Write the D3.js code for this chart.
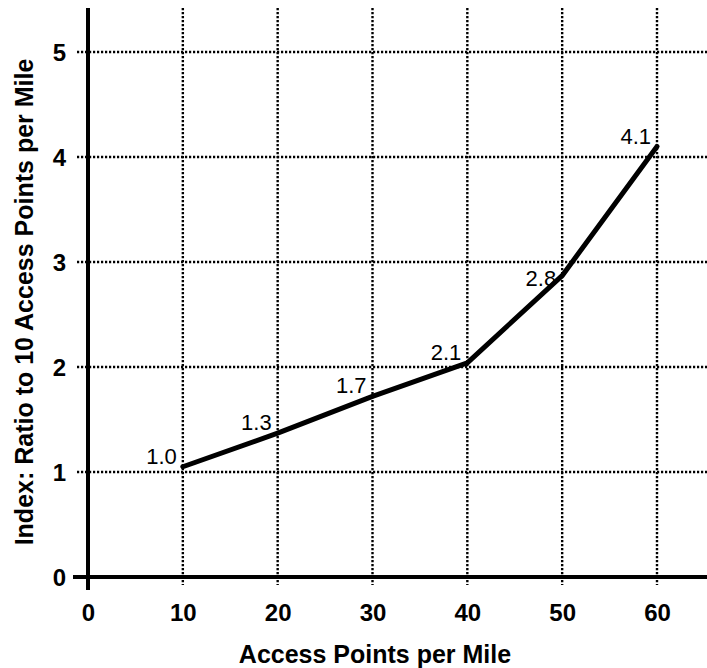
<!DOCTYPE html>
<html>
<head>
<meta charset="utf-8">
<script src="https://cdn.jsdelivr.net/npm/d3@7"></script>
<style>
  body { margin: 0; background: #fff; }
  svg { display: block; }
</style>
</head>
<body>
<svg id="chart"></svg>
<script>
// chart data
var accessPoints = [10, 20, 30, 40, 50, 60]
var indexValues = [1.05, 1.37, 1.72, 2.04, 2.87, 4.1]
var valueLabels = ["1.0", "1.3", "1.7", "2.1", "2.8", "4.1"]
var xTicks = [0, 10, 20, 30, 40, 50, 60]
var yTicks = [0, 1, 2, 3, 4, 5]

var dimensions = {
    width: 707,
    height: 668,
    margin: { top: 8, right: 0, bottom: 91, left: 88 }
}

var svg = d3.select("#chart")
    .attr("width", dimensions.width)
    .attr("height", dimensions.height)

var font = "'Liberation Sans', Arial, Helvetica, sans-serif"

var xScale = d3.scaleLinear()
    .domain([0, 60])
    .range([dimensions.margin.left, 657])

var yScale = d3.scaleLinear()
    .domain([0, 5])
    .range([dimensions.height - dimensions.margin.bottom, 52])

var x0 = xScale(0), y0 = yScale(0)
var right = dimensions.width - dimensions.margin.right

// dotted grid
var grid = svg.append("g")
    .attr("stroke", "#000")
    .attr("stroke-width", 2.4)
    .attr("stroke-dasharray", "2.2,1.8")

grid.selectAll(".vgrid")
    .data(xTicks.filter(d => d > 0))
    .enter()
    .append("line")
    .attr("x1", d => xScale(d))
    .attr("x2", d => xScale(d))
    .attr("y1", dimensions.margin.top)
    .attr("y2", y0 + 8)

grid.selectAll(".hgrid")
    .data(yTicks.filter(d => d > 0))
    .enter()
    .append("line")
    .attr("x1", x0 - 11)
    .attr("x2", right)
    .attr("y1", d => yScale(d))
    .attr("y2", d => yScale(d))

// axes lines
svg.append("line")
    .attr("x1", x0 - 15).attr("x2", right)
    .attr("y1", y0).attr("y2", y0)
    .attr("stroke", "#000").attr("stroke-width", 4)

svg.append("line")
    .attr("x1", x0).attr("x2", x0)
    .attr("y1", dimensions.margin.top).attr("y2", y0 + 13)
    .attr("stroke", "#000").attr("stroke-width", 4)

// tick labels through d3 axes
var xAxisgen = d3.axisBottom(xScale).tickValues(xTicks).tickSize(0).tickFormat(d3.format("d"))
var xAxis = svg.append("g")
    .attr("transform", "translate(0," + y0 + ")")
    .call(xAxisgen)
xAxis.select(".domain").remove()
xAxis.selectAll("text")
    .attr("dy", 0)
    .attr("y", 44)
    .style("font-family", font)
    .style("font-weight", "bold")
    .style("font-size", "24px")
    .attr("fill", "#000")

var yAxisgen = d3.axisLeft(yScale).tickValues(yTicks).tickSize(0).tickPadding(22).tickFormat(d3.format("d"))
var yAxis = svg.append("g")
    .attr("transform", "translate(" + x0 + ",0)")
    .call(yAxisgen)
yAxis.select(".domain").remove()
yAxis.selectAll("text")
    .attr("dy", "0.36em")
    .style("font-family", font)
    .style("font-weight", "bold")
    .style("font-size", "24px")
    .attr("fill", "#000")

// the index line
var points = accessPoints.map((d, i) => [d, indexValues[i], valueLabels[i]])

var line = d3.line()
    .x(d => xScale(d[0]))
    .y(d => yScale(d[1]))

svg.append("path")
    .datum(points)
    .attr("d", line)
    .attr("fill", "none")
    .attr("stroke", "#000")
    .attr("stroke-width", 5)
    .attr("stroke-linejoin", "round")
    .attr("stroke-linecap", "round")

// value labels (2.8 sits below the point in the original)
svg.selectAll(".vlabel")
    .data(points)
    .enter()
    .append("text")
    .attr("x", d => xScale(d[0]) - 6)
    .attr("y", d => yScale(d[1]) + (d[2] === "2.8" ? 10 : -3))
    .attr("text-anchor", "end")
    .style("font-family", font)
    .style("font-size", "22px")
    .attr("fill", "#000")
    .text(d => d[2])

// axis titles
svg.append("text")
    .attr("x", 375)
    .attr("y", 663)
    .attr("text-anchor", "middle")
    .style("font-family", font)
    .style("font-weight", "bold")
    .style("font-size", "25px")
    .text("Access Points per Mile")

svg.append("text")
    .attr("transform", "translate(33,302) rotate(-90)")
    .attr("text-anchor", "middle")
    .style("font-family", font)
    .style("font-weight", "bold")
    .style("font-size", "25px")
    .text("Index: Ratio to 10 Access Points per Mile")
</script>
</body>
</html>
